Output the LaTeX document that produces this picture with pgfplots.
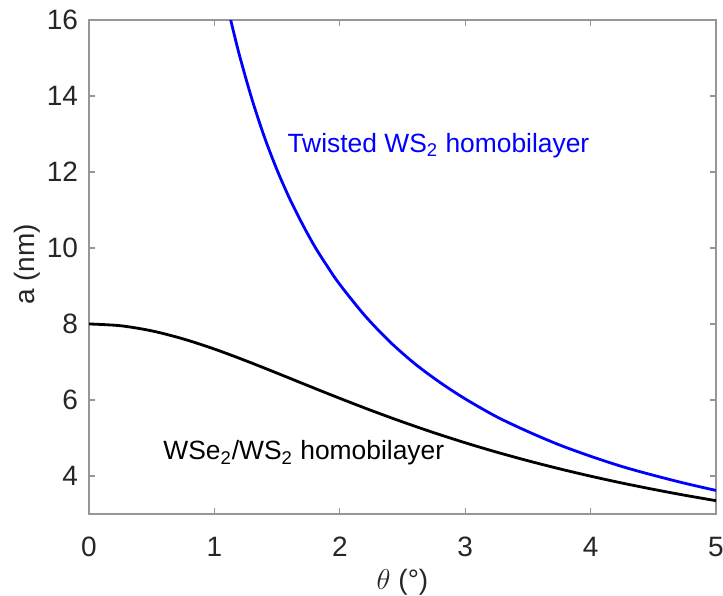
\documentclass[border=0pt]{standalone}
\usepackage{fontspec}
\setmainfont{Liberation Sans}
\usepackage{pgfplots}
\pgfplotsset{compat=1.18}

% Moire period versus twist angle
\pgfplotstableread{
theta a
1.10 16.44
1.13 16.00
1.20 15.07
1.30 13.91
1.40 12.91
1.50 12.05
1.60 11.30
1.70 10.64
1.80 10.04
1.90 9.52
2.00 9.04
2.20 8.22
2.40 7.53
2.60 6.95
2.80 6.46
3.00 6.03
3.25 5.56
3.50 5.17
3.75 4.82
4.00 4.52
4.25 4.25
4.50 4.02
4.75 3.81
5.00 3.62
}\homo

\pgfplotstableread{
theta a
0.00 8.001
0.25 7.955
0.50 7.820
0.75 7.609
1.00 7.341
1.25 7.034
1.50 6.707
1.75 6.373
2.00 6.044
2.25 5.726
2.50 5.424
2.75 5.140
3.00 4.875
3.25 4.629
3.50 4.402
3.75 4.191
4.00 3.996
4.25 3.815
4.50 3.649
4.75 3.494
5.00 3.351
}\hetero

\definecolor{axgray}{RGB}{150,150,150}
\definecolor{txtgray}{RGB}{38,38,38}

\begin{document}
\begin{tikzpicture}
\begin{axis}[
  at={(0,0)}, anchor=south west,
  scale only axis,
  width=313.5pt, height=247pt,
  xmin=0, xmax=5, ymin=3, ymax=16,
  xtick={0,1,2,3,4,5},
  ytick={4,6,8,10,12,14,16},
  tick align=inside,
  major tick length=3pt,
  axis line style={axgray, line width=0.6pt},
  tick style={axgray, line width=0.6pt},
  /pgf/number format/assume math mode=true,
  ticklabel style={font=\fontsize{14}{16}\selectfont, text=txtgray},
  xticklabel style={yshift=-8pt},
  yticklabel style={xshift=-2pt},
  xlabel={$\theta$ (°)},
  ylabel={a (nm)},
  label style={font=\fontsize{14}{16}\selectfont, text=txtgray},
  xlabel style={at={([yshift=-34.3pt]axis description cs:0.5,0)}, anchor=center},
  ylabel style={at={([xshift=-31pt]axis description cs:0,0.505)}, anchor=center},
  clip=true,
]
\addplot[blue, line width=1.4pt, smooth] table[x=theta, y=a] {\homo};
\addplot[black, line width=1.4pt, smooth] table[x=theta, y=a] {\hetero};
\node[anchor=west, text=blue, font=\fontsize{13.2}{15}\selectfont, inner sep=0pt]
  at (axis cs:1.58,12.7) {Twisted WS\textsubscript{2} homobilayer};
\node[anchor=west, text=black, font=\fontsize{13.2}{15}\selectfont, inner sep=0pt]
  at (axis cs:0.59,4.61) {WSe\textsubscript{2}/WS\textsubscript{2} homobilayer};
\end{axis}
\pgfresetboundingbox
\useasboundingbox (-44.5pt,-40.85pt) rectangle (317pt,257pt);
\end{tikzpicture}
\end{document}
